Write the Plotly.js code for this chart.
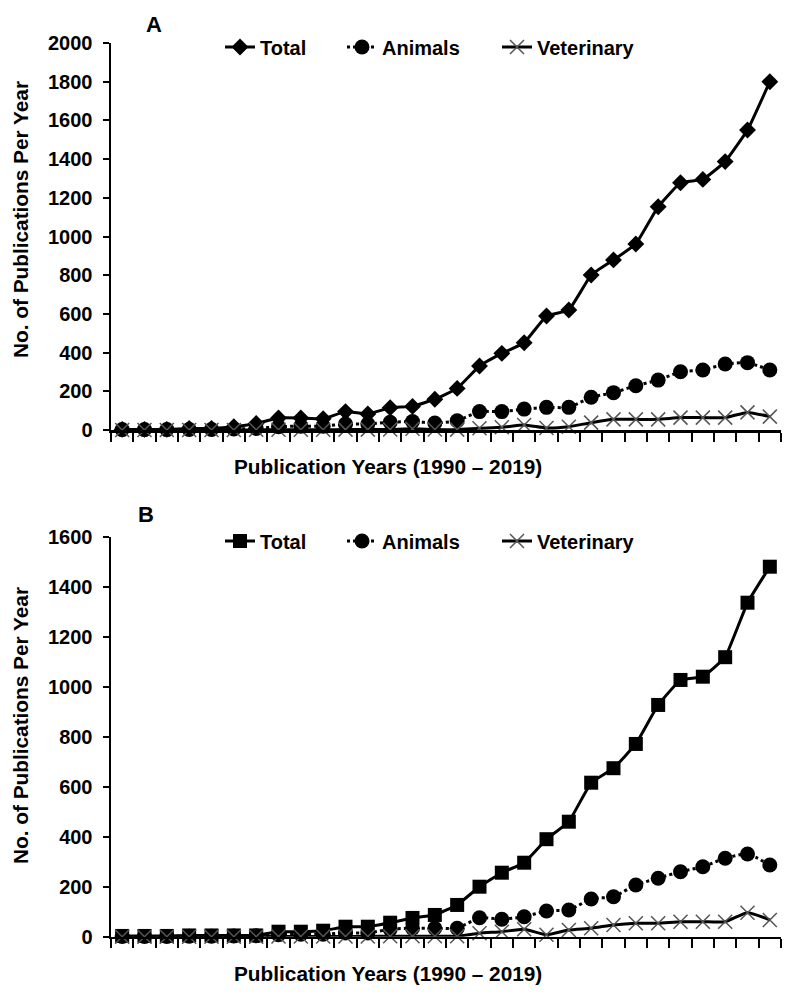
<!DOCTYPE html>
<html>
<head>
<meta charset="utf-8">
<script src="https://cdn.plot.ly/plotly-3.0.1.min.js"></script>
<style>
html,body{margin:0;padding:0;background:#fff;}
#chart{width:787px;height:994px;}
</style>
</head>
<body>
<div id="chart"></div>
<script>
// ---- Data ----
const years = [];
for (let y = 1990; y <= 2019; y++) years.push(String(y));

// Panel A
const totalA = [3,3,3,8,8,17,34,62,62,58,95,83,115,122,159,215,331,396,451,589,620,801,879,961,1154,1278,1295,1387,1550,1800];
const animalsA = [2,2,2,3,3,5,8,17,20,20,31,31,40,44,36,48,95,95,108,117,117,169,193,229,258,301,310,341,348,310];
const vetA = [0,0,0,0,0,0,1,1,1,1,2,2,3,6,3,2,9,14,26,10,17,38,55,55,55,64,64,64,91,69];

// Panel B
const totalB = [3,3,3,5,5,5,5,20,20,24,40,40,56,75,87,127,200,256,296,390,460,616,674,771,927,1027,1040,1118,1336,1480];
const animalsB = [1,1,1,2,2,3,4,8,10,10,15,15,30,34,34,34,76,70,80,103,107,151,160,207,234,260,280,314,331,287];
const vetB = [0,0,0,0,0,0,0,1,1,1,1,1,2,2,2,2,14,20,30,8,27,34,47,54,54,60,60,60,96,67];

const seriesNames = ['Total','Animals','Veterinary'];
const panelLabels = ['A','B'];
const xTitle = 'Publication Years (1990 \u2013 2019)';
const yTitle = 'No. of Publications Per Year';

// ---- Styling ----
const W = 787, H = 994;
const FONT = 'Liberation Sans, Arial, Helvetica, sans-serif';
const px = v => v / W;
const py = v => 1 - v / H;

function totalTrace(y, xa, ya, sym, size, leg) {
  return {x: years, y: y, xaxis: xa, yaxis: ya, name: seriesNames[0], type: 'scatter',
    mode: 'lines+markers', cliponaxis: false, legend: leg,
    line: {color: '#000', width: 3, shape: 'spline', smoothing: 0.3},
    marker: {symbol: sym, size: size, color: '#000'}};
}
function animalsTrace(y, xa, ya, leg) {
  return {x: years, y: y, xaxis: xa, yaxis: ya, name: seriesNames[1], type: 'scatter',
    mode: 'lines+markers', cliponaxis: false, legend: leg,
    line: {color: '#000', width: 3, dash: 'dot', shape: 'spline', smoothing: 0.5},
    marker: {symbol: 'circle', size: 15, color: '#000'}};
}
function vetTrace(y, xa, ya, leg) {
  return {x: years, y: y, xaxis: xa, yaxis: ya, name: seriesNames[2], type: 'scatter',
    mode: 'lines+markers', cliponaxis: false, legend: leg,
    line: {color: '#000', width: 3, shape: 'spline', smoothing: 0.5},
    marker: {symbol: 'x-thin-open', size: 14, color: '#555', line: {color: '#555', width: 1.5}}};
}

const data = [
  totalTrace(totalA, 'x', 'y', 'diamond', 13, 'legend'),
  animalsTrace(animalsA, 'x', 'y', 'legend2'),
  vetTrace(vetA, 'x', 'y', 'legend3'),
  totalTrace(totalB, 'x2', 'y2', 'square', 14, 'legend4'),
  animalsTrace(animalsB, 'x2', 'y2', 'legend5'),
  vetTrace(vetB, 'x2', 'y2', 'legend6')
];

const tickFont = {family: FONT, size: 20, color: '#000', weight: 'bold'};
function xAxis(anchor) {
  return {domain: [px(111), px(781)], anchor: anchor, type: 'category', range: [-0.5, 29.5],
    showticklabels: false, ticks: 'outside', tickson: 'boundaries', ticklen: 9, tickwidth: 2,
    tickcolor: '#000', showline: true, linecolor: '#000', linewidth: 2.5, showgrid: false,
    zeroline: false, fixedrange: true};
}
function yAxis(anchor, top, bottom, max) {
  return {domain: [py(bottom), py(top)], anchor: anchor, range: [0, max], dtick: 200,
    ticks: 'outside', ticklen: 6, tickwidth: 2, tickcolor: '#000', showline: true,
    linecolor: '#000', linewidth: 2.5, showgrid: false, zeroline: false,
    tickfont: tickFont, ticklabelstandoff: 6, fixedrange: true};
}

const legFont = {family: FONT, size: 20, color: '#000', weight: 'bold'};
function leg(textX, cy) {
  return {x: px(textX - 40), xanchor: 'left', y: py(cy), yanchor: 'middle',
    orientation: 'h', font: legFont, bgcolor: 'rgba(0,0,0,0)', borderwidth: 0};
}

const annFont = {family: FONT, size: 20.8, color: '#000'};
function ann(text, x, y, extra) {
  return Object.assign({text: text, x: px(x), y: py(y), xref: 'paper', yref: 'paper',
    xanchor: 'center', yanchor: 'middle', showarrow: false, font: annFont}, extra || {});
}
const annotations = [
  ann('<b>' + yTitle + '</b>', 20, 220, {textangle: -90}),
  ann('<b>' + yTitle + '</b>', 20, 726, {textangle: -90}),
  ann('<b>' + xTitle + '</b>', 388, 466),
  ann('<b>' + xTitle + '</b>', 388, 973),
  ann('<b>' + panelLabels[0] + '</b>', 154, 24, {font: {family: FONT, size: 22, color: '#000'}}),
  ann('<b>' + panelLabels[1] + '</b>', 146, 514, {font: {family: FONT, size: 22, color: '#000'}})
];

const layout = {
  width: W, height: H,
  margin: {l: 0, r: 0, t: 0, b: 0},
  paper_bgcolor: '#fff', plot_bgcolor: '#fff',
  font: {family: FONT, color: '#000'},
  xaxis: xAxis('y'),
  yaxis: yAxis('x', 43, 430, 2000),
  xaxis2: xAxis('y2'),
  yaxis2: yAxis('x2', 536.7, 936.7, 1600),
  legend: leg(260, 47),
  legend2: leg(382, 47),
  legend3: leg(537, 47),
  legend4: leg(260, 541),
  legend5: leg(382, 541),
  legend6: leg(537, 541),
  annotations: annotations,
  showlegend: true
};

Plotly.newPlot('chart', data, layout, {displayModeBar: false, staticPlot: true});
</script>
</body>
</html>
